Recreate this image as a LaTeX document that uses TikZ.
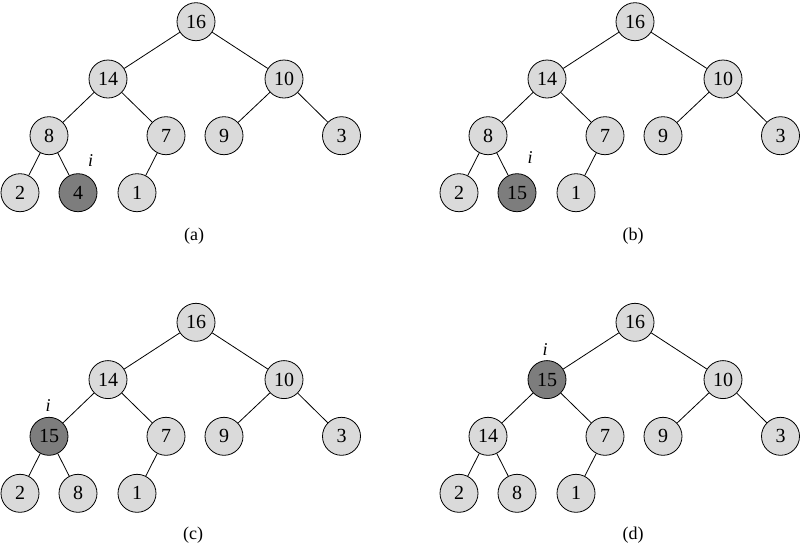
\documentclass[tikz,border=0pt]{standalone}
\usepackage{fontspec}
\setmainfont{Liberation Serif}
\definecolor{lightfill}{RGB}{218,218,218}
\definecolor{darkfill}{RGB}{125,125,125}
\tikzset{
  hn/.style={circle,draw=black,line width=0.8pt,fill=lightfill,minimum size=38pt,inner sep=0pt,font=\fontsize{20}{20}\selectfont},
  hd/.style={hn,fill=darkfill},
  edge/.style={line width=0.8pt,black},
  ilab/.style={font=\fontsize{18}{18}\selectfont\itshape},
  caplab/.style={font=\fontsize{18}{18}\selectfont}
}
\newcommand{\HeapTree}[8]{%
  \begin{scope}[shift={#2}]
    \node[hn] (#1r) at (0,0) {16};
    \node[#4] (#1a) at (-88,57.3) {#3};
    \node[hn] (#1b) at (88,57.3) {10};
    \node[#6] (#1c) at (-147,114) {#5};
    \node[hn] (#1d) at (-30,114) {7};
    \node[hn] (#1e) at (28,114) {9};
    \node[hn] (#1f) at (145.5,114) {3};
    \node[hn] (#1g) at (-176,171) {2};
    \node[#8] (#1h) at (-118,171) {#7};
    \node[hn] (#1k) at (-59,171) {1};
    \draw[edge] (#1r) -- (#1a) (#1r) -- (#1b) (#1a) -- (#1c) (#1a) -- (#1d)
      (#1b) -- (#1e) (#1b) -- (#1f) (#1c) -- (#1g) (#1c) -- (#1h) (#1d) -- (#1k);
  \end{scope}}
\begin{document}
\begin{tikzpicture}[x=1pt,y=-1pt]
\useasboundingbox (0,0) rectangle (802,547);
\HeapTree{A}{(196,21.7)}{14}{hn}{8}{hn}{4}{hd}
\HeapTree{B}{(635,21.7)}{14}{hn}{8}{hn}{15}{hd}
\HeapTree{C}{(196,322.3)}{14}{hn}{15}{hd}{8}{hn}
\HeapTree{D}{(635,322.3)}{15}{hd}{14}{hn}{8}{hn}
\node[ilab] (ia) at (90.5,161) {i};
\node[ilab] (ib) at (530,158) {i};
\node[ilab] (ic) at (48,406) {i};
\node[ilab] (id) at (545,350) {i};
\node[caplab] (la) at (194,236) {(a)};
\node[caplab] (lb) at (633,236) {(b)};
\node[caplab] (lc) at (193,535) {(c)};
\node[caplab] (ld) at (633,535) {(d)};
\end{tikzpicture}
\end{document}
